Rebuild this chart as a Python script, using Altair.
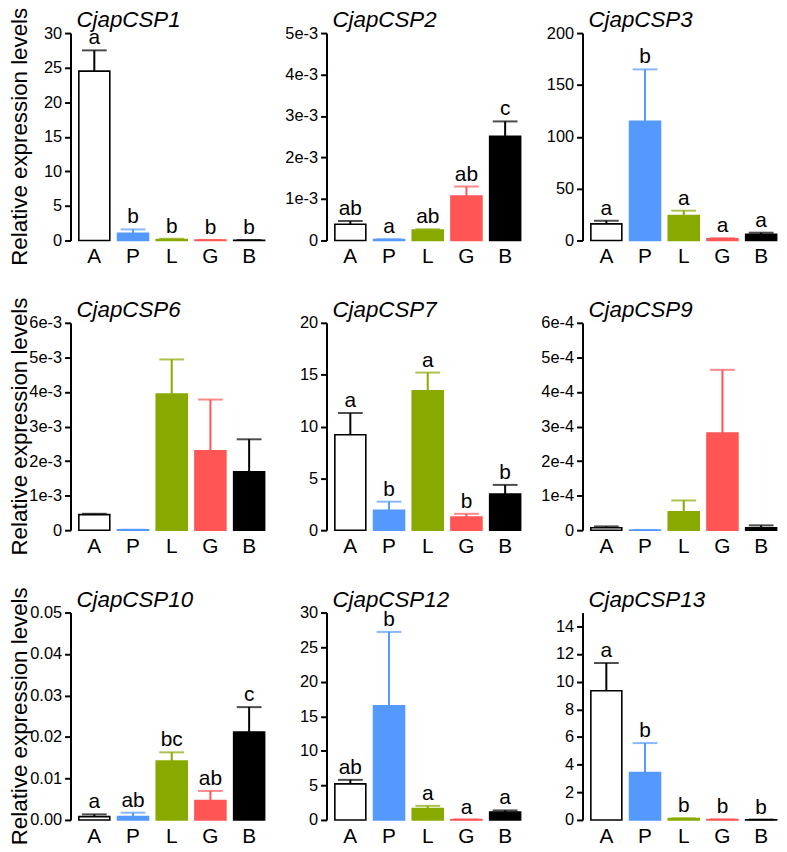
import altair as alt
import pandas as pd

FONT = "Liberation Sans"

categories = ["A", "P", "L", "G", "B"]
bar_fill = ["#ffffff", "#5599ff", "#88aa00", "#ff5555", "#000000"]
edge_color = ["#000000", "#5599ff", "#88aa00", "#ff5555", "#000000"]

genes = ["CjapCSP1", "CjapCSP2", "CjapCSP3",
         "CjapCSP6", "CjapCSP7", "CjapCSP9",
         "CjapCSP10", "CjapCSP12", "CjapCSP13"]

csp1_mean = [24.5, 1.05, 0.15, 0.05, 0.04]
csp1_sem = [3.0, 0.55, 0.1, 0.03, 0.02]
csp1_letters = ["a", "b", "b", "b", "b"]

csp2_mean = [0.39e-3, 0.02e-3, 0.25e-3, 1.07e-3, 2.51e-3]
csp2_sem = [0.08e-3, 0.01e-3, 0.02e-3, 0.23e-3, 0.36e-3]
csp2_letters = ["ab", "a", "ab", "ab", "c"]

csp3_mean = [16, 115, 24, 1.5, 6]
csp3_sem = [3, 50, 4.7, 0.7, 1.5]
csp3_letters = ["a", "b", "a", "a", "a"]

csp6_mean = [0.45e-3, 0.01e-3, 3.94e-3, 2.30e-3, 1.69e-3]
csp6_sem = [0.025e-3, 0.005e-3, 1.0e-3, 1.48e-3, 0.94e-3]
csp6_letters = ["", "", "", "", ""]

csp7_mean = [9.2, 1.93, 13.45, 1.27, 3.48]
csp7_sem = [2.1, 0.82, 1.75, 0.31, 0.89]
csp7_letters = ["a", "b", "a", "b", "b"]

csp9_mean = [0.07e-4, 0.005e-4, 0.53e-4, 2.81e-4, 0.07e-4]
csp9_sem = [0.04e-4, 0.003e-4, 0.33e-4, 1.83e-4, 0.07e-4]
csp9_letters = ["", "", "", "", ""]

csp10_mean = [0.0008, 0.0008, 0.0142, 0.0047, 0.0212]
csp10_sem = [0.00055, 0.00095, 0.0021, 0.0023, 0.006]
csp10_letters = ["a", "ab", "bc", "ab", "c"]

csp12_mean = [5.22, 16.5, 1.66, 0.05, 1.14]
csp12_sem = [0.58, 10.7, 0.38, 0.02, 0.24]
csp12_letters = ["ab", "b", "a", "a", "a"]

csp13_mean = [9.35, 3.42, 0.1, 0.03, 0.02]
csp13_sem = [2.0, 2.14, 0.02, 0.01, 0.01]
csp13_letters = ["a", "b", "b", "b", "b"]

# y-axis tick labels per panel
ticks_30 = [0, 5, 10, 15, 20, 25, 30]
ticks_5e3 = [0, 0.001, 0.002, 0.003, 0.004, 0.005]
ticks_200 = [0, 50, 100, 150, 200]
ticks_6e3 = [0, 0.001, 0.002, 0.003, 0.004, 0.005, 0.006]
ticks_20 = [0, 5, 10, 15, 20]
ticks_6e4 = [0, 0.0001, 0.0002, 0.0003, 0.0004, 0.0005, 0.0006]
ticks_005 = [0, 0.01, 0.02, 0.03, 0.04, 0.05]
ticks_14 = [0, 2, 4, 6, 8, 10, 12, 14]

EXPR_INT = "format(datum.value, 'd')"
EXPR_E3 = "datum.value == 0 ? '0' : format(datum.value * 1000, '.0f') + 'e-3'"
EXPR_E4 = "datum.value == 0 ? '0' : format(datum.value * 10000, '.0f') + 'e-4'"
EXPR_2F = "format(datum.value, '.2f')"

panels_spec = [
    (genes[0], csp1_mean, csp1_sem, csp1_letters, 30, ticks_30, EXPR_INT),
    (genes[1], csp2_mean, csp2_sem, csp2_letters, 0.005, ticks_5e3, EXPR_E3),
    (genes[2], csp3_mean, csp3_sem, csp3_letters, 200, ticks_200, EXPR_INT),
    (genes[3], csp6_mean, csp6_sem, csp6_letters, 0.006, ticks_6e3, EXPR_E3),
    (genes[4], csp7_mean, csp7_sem, csp7_letters, 20, ticks_20, EXPR_INT),
    (genes[5], csp9_mean, csp9_sem, csp9_letters, 0.0006, ticks_6e4, EXPR_E4),
    (genes[6], csp10_mean, csp10_sem, csp10_letters, 0.05, ticks_005, EXPR_2F),
    (genes[7], csp12_mean, csp12_sem, csp12_letters, 30, ticks_30, EXPR_INT),
    (genes[8], csp13_mean, csp13_sem, csp13_letters, 15, ticks_14, EXPR_INT),
]

W, H = 204, 209


def panel(gene, means, sems, letters, ymax, ticks, label_expr, first_col):
    df = pd.DataFrame({
        "cat": categories,
        "mean": means,
        "top": [m + s for m, s in zip(means, sems)],
        "letter": letters,
    })
    xscale = alt.Scale(domain=categories, paddingInner=0.2, paddingOuter=0.215)
    yscale = alt.Scale(domain=[0, ymax], nice=False, zero=True)
    yaxis = alt.Axis(title=None, values=ticks, tickCount=50, labelExpr=label_expr,
                     grid=False, labelOverlap=False, labelFlush=False,
                     domainColor="black", domainWidth=2, tickColor="black",
                     tickWidth=2, tickSize=6, labelFontSize=16.5, labelPadding=3,
                     labelColor="black", labelFont=FONT)
    x = alt.X("cat:N", sort=categories, scale=xscale,
              axis=alt.Axis(title=None, labelAngle=0, domain=False, ticks=False,
                            labelFontSize=21, labelPadding=5.5, labelColor="black",
                            labelFont=FONT))
    y = alt.Y("mean:Q", scale=yscale, axis=yaxis)
    xs = alt.X("cat:N", sort=categories, scale=xscale)
    col = alt.Color("cat:N", scale=alt.Scale(domain=categories, range=edge_color), legend=None)
    base = alt.Chart(df)
    bars = base.mark_bar(strokeWidth=1.6).encode(
        x=x, y=y,
        fill=alt.Fill("cat:N", scale=alt.Scale(domain=categories, range=bar_fill), legend=None),
        stroke=alt.Stroke("cat:N", scale=alt.Scale(domain=categories, range=edge_color), legend=None),
    )
    stems = base.mark_rule(strokeWidth=2).encode(
        x=xs, y=alt.Y("mean:Q", scale=yscale, axis=yaxis), y2="top:Q", color=col)
    caps = base.mark_tick(thickness=2, size=25).encode(
        x=xs, y=alt.Y("top:Q", scale=yscale, axis=yaxis), color=col)
    lets = base.mark_text(fontSize=21, baseline="alphabetic", dy=-6, font=FONT,
                          color="black").encode(
        x=xs, y=alt.Y("top:Q", scale=yscale, axis=yaxis), text="letter:N")
    title = alt.Chart(pd.DataFrame({"gene": [gene]})).mark_text(
        align="left", baseline="alphabetic", fontStyle="italic", fontSize=22.5,
        font=FONT, color="black").encode(
        x=alt.value(6), y=alt.value(-6), text="gene:N")
    layers = [bars, stems, caps, lets, title]
    if first_col:
        ytitle = alt.Chart(pd.DataFrame({"t": ["Relative expression levels"]})).mark_text(
            align="center", baseline="alphabetic", angle=270, fontSize=22.5,
            font=FONT, color="black").encode(
            x=alt.value(-44), y=alt.value(H / 2), text="t:N")
        layers.append(ytitle)
    return alt.layer(*layers).properties(width=W, height=H)


charts = [panel(*spec, first_col=(i % 3 == 0)) for i, spec in enumerate(panels_spec)]

chart = alt.concat(
    *charts, columns=3, spacing={"row": 83, "column": 54}, bounds="flush"
).properties(
    autosize=alt.AutoSizeParams(type="none"),
    padding={"left": 63, "top": 22, "right": 714, "bottom": 818},
).configure_view(stroke=None)

chart.save("out.html", embed_options={"renderer": "svg", "actions": False})
